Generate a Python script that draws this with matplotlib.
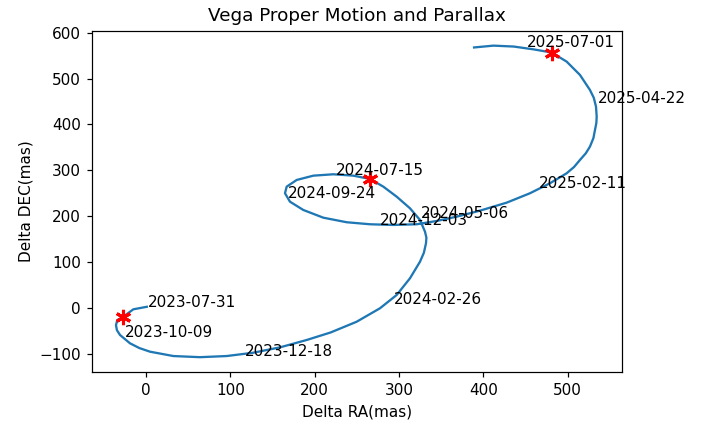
#!/usr/bin/env python3
"""
Vega proper motion + parallax track (Delta RA / Delta DEC in mas),
with date labels along the path and red stars at marked epochs.
"""

import matplotlib

matplotlib.use("Agg")
import matplotlib.pyplot as plt

# -------------------- Data --------------------
# track of the star, in time order
track_ra = [
    1, -15, -27, -34, -35.6, -34.5, -30.8, -19, -8, 4.7, 32.4, 64, 95.7, 127,
    159, 190.5, 219, 249.8, 277.4, 297.2, 313, 324.9, 329.5, 332, 332.5, 330.8,
    324.9, 313, 297.2, 281.4, 265.6, 245.8, 222.1, 198.4, 178.7, 166.8, 164.8,
    170.7, 186.5, 210.2, 238, 265.6, 293.2, 321, 344.7, 368.4, 396, 427.7,
    455.3, 479, 498.8, 507.5, 514.6, 521.5, 526.4, 530.5, 532.4, 534, 534.4,
    533.6, 531, 526.4, 514.6, 498.8, 481, 459, 436, 412, 389,
]
track_dec = [
    2, -3.5, -19.7, -27, -38, -49, -59.6, -77.7, -88, -96, -105.5, -108,
    -105.5, -98.3, -86.5, -70.5, -54, -30.6, -1.3, 27.7, 64.2, 100.4, 120,
    140.6, 153, 166, 191.5, 217, 242.4, 264.2, 281, 288.2, 291.2, 288.2, 278.8,
    264.2, 249.8, 231.4, 213.3, 196.5, 186.5, 182.1, 180.6, 182.1, 189.3,
    198.7, 211.8, 229.3, 249.8, 271.6, 293.4, 307, 322.5, 337, 351.5, 370,
    388, 403, 417, 438.9, 458, 475.3, 508, 537.1, 557, 564, 570, 572, 568,
]

# marked epochs (red stars)
star_ra = [-27, 265.6, 481]
star_dec = [-19.7, 281, 557]

# date labels along the track
label_dates = [
    "2023-07-31", "2023-10-09", "2023-12-18", "2024-02-26", "2024-05-06",
    "2024-07-15", "2024-09-24", "2024-12-03", "2025-02-11", "2025-04-22",
    "2025-07-01",
]
label_ra = [2, -24.9, 117.4, 294, 325.7, 225.3, 168.7, 277.4, 465.3, 536.4, 452.1]
label_dec = [2.2, -63.3, -105, 8.5, 195.2, 289.5, 238.9, 180.6, 262, 446.3, 568.6]

# -------------------- Plot --------------------
DPI = 110
fig = plt.figure(figsize=(722 / DPI, 425 / DPI), dpi=DPI)
ax = fig.add_axes([0.127, 0.124, 0.734, 0.804])

ax.plot(track_ra, track_dec, color="#1f77b4", lw=1.5)
# asterisk-shaped markers
ax.plot(star_ra, star_dec, ls="none", marker=(6, 2, 0), markersize=10,
        markeredgewidth=2, color="red")
for d, x, y in zip(label_dates, label_ra, label_dec):
    ax.text(x, y, d, fontsize=10)

ax.set_xlim(-64.4, 564)
ax.set_ylim(-141, 604.8)
ax.set_xticks([0, 100, 200, 300, 400, 500])
ax.set_yticks([-100, 0, 100, 200, 300, 400, 500, 600])
ax.set_title("Vega Proper Motion and Parallax", fontsize=12)
ax.set_xlabel("Delta RA(mas)", fontsize=10)
ax.set_ylabel("Delta DEC(mas)", fontsize=10)

fig.savefig("out.png", dpi=DPI)
